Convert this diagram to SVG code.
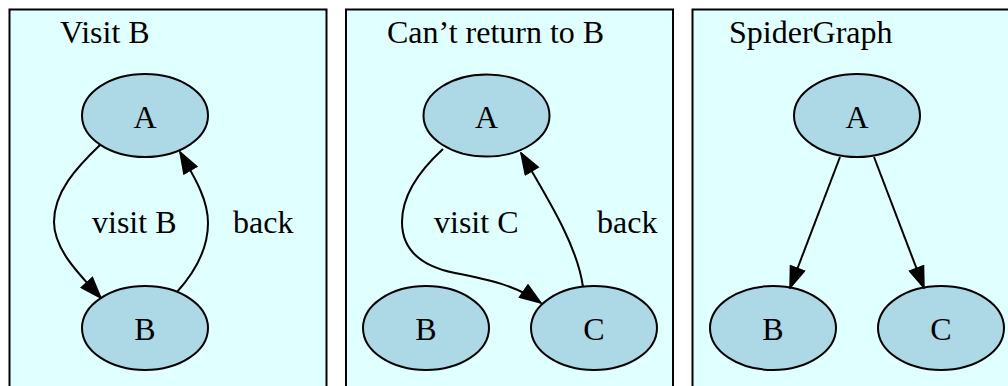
<svg xmlns="http://www.w3.org/2000/svg" width="1008" height="386" viewBox="0 0 1008 386">
<defs>
<style>
.panel{fill:#e0ffff;stroke:#000;stroke-width:2}
.node ellipse{fill:#add8e6;stroke:#000;stroke-width:2}
text{font-family:"Liberation Serif","Times New Roman",serif;font-size:32px;fill:#000}
.node text{text-anchor:middle}
.edge{fill:none;stroke:#000;stroke-width:2;marker-end:url(#arr)}
</style>
<marker id="arr" markerUnits="userSpaceOnUse" viewBox="-1 -1 23 17" markerWidth="23" markerHeight="17" refX="21" refY="7.5" orient="auto">
<path d="M0,0 L21,7.5 L0,15 z" fill="#000" stroke="#000" stroke-width="1.5" stroke-linejoin="miter"/>
</marker>
</defs>
<rect width="1008" height="386" fill="#fff"/>
<g id="panel1">
<rect class="panel" x="9.5" y="9.5" width="317" height="400"/>
<text x="60" y="43">Visit B</text>
</g>
<g id="panel2">
<rect class="panel" x="346" y="9.5" width="327" height="400"/>
<text x="387" y="43">Can’t return to B</text>
</g>
<g id="panel3">
<rect class="panel" x="692.5" y="9.5" width="340" height="400"/>
<text x="729" y="43">SpiderGraph</text>
</g>
<g id="p1-A" class="node"><ellipse cx="145" cy="115.5" rx="63" ry="41.5"/><text x="145" y="128">A</text></g>
<g id="p1-B" class="node"><ellipse cx="145" cy="328" rx="63" ry="42"/><text x="145" y="340">B</text></g>
<g id="p2-A" class="node"><ellipse cx="486.5" cy="115.5" rx="63" ry="41"/><text x="486.5" y="128">A</text></g>
<g id="p2-B" class="node"><ellipse cx="426" cy="328" rx="63" ry="42"/><text x="426" y="340">B</text></g>
<g id="p2-C" class="node"><ellipse cx="594" cy="328" rx="63" ry="42"/><text x="594" y="340">C</text></g>
<g id="p3-A" class="node"><ellipse cx="857" cy="115.5" rx="63" ry="41.5"/><text x="857" y="128">A</text></g>
<g id="p3-B" class="node"><ellipse cx="773" cy="328" rx="63" ry="42"/><text x="773" y="340">B</text></g>
<g id="p3-C" class="node"><ellipse cx="941" cy="328" rx="63" ry="42"/><text x="941" y="340">C</text></g>
<g id="connectors">
<path class="edge" d="M100,145 C76,168 54,192 54,222 C54,250 80,275 101,298"/>
<path class="edge" d="M177,292 C195,272 208,250 208,223 C208,200 196,180 180,152"/>
<path class="edge" d="M443,149 C420,170 402,195 402,222 C402,252 425,267 455,273 C490,280 515,285 541,303"/>
<path class="edge" d="M583,287 C578,250 555,210 521,153"/>
<path class="edge" d="M840,157 L790,288"/>
<path class="edge" d="M874,157 L924,288"/>
<text x="92" y="233">visit B</text>
<text x="233" y="233">back</text>
<text x="434" y="233">visit C</text>
<text x="597" y="233">back</text>
</g>
</svg>
